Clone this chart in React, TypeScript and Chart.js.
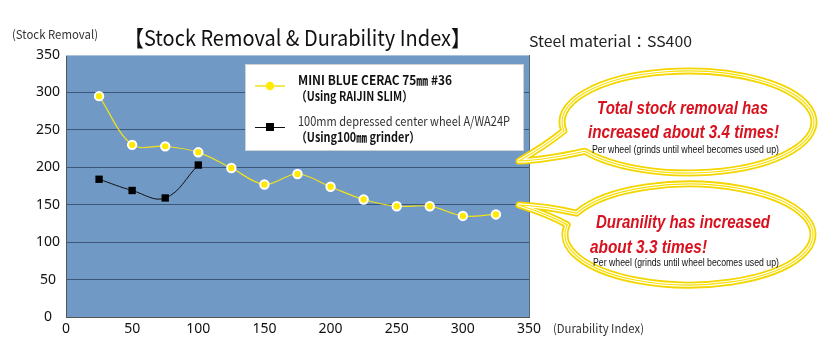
import React, { useEffect, useRef } from "react";
import { Chart, registerables } from "chart.js";

Chart.register(...registerables);

// ---- data ----
const yellowLabel = ["MINI BLUE CERAC 75㎜ #36", "（Using RAIJIN SLIM）"];
const blackLabel = ["100mm depressed center wheel A/WA24P", "（Using100㎜ grinder）"];
const yellowDurability = [25, 50, 75, 100, 125, 150, 175, 200, 225, 250, 275, 300, 325];
const yellowRemoval = [295, 230, 228, 220, 199, 177, 191, 174, 157, 148, 148, 135, 137];
const blackDurability = [25, 50, 75, 100];
const blackRemoval = [184, 169, 159, 203];
const xTicks = [0, 50, 100, 150, 200, 250, 300, 350];
const yTicks = [0, 50, 100, 150, 200, 250, 300, 350];

const titleText = "【Stock Removal & Durability Index】";
const materialText = "Steel material：SS400";
const yAxisTitle = "(Stock Removal)";
const xAxisTitle = "(Durability Index)";
const callout1 = ["Total stock removal has", "increased about 3.4 times!"];
const callout2 = ["Duranility has increased", "about 3.3 times!"];
const perWheel = "Per wheel (grinds until wheel becomes used up)";

const YELLOW = "#ffea00";
const YELLOW_LINE = "#f2e21a";
const PLOT_BG = "#7199c5";
const GRID = "#3d5678";
const RED = "#d8121e";
const CJK = "'Noto Sans CJK JP', 'Noto Sans', sans-serif";
const NARROW = "'Liberation Sans Narrow', 'Liberation Sans', sans-serif";

function fitText(ctx: CanvasRenderingContext2D, text: string, x: number, y: number, width: number, font: string, color: string) {
  ctx.save();
  ctx.font = font;
  ctx.fillStyle = color;
  ctx.textAlign = "left";
  ctx.textBaseline = "alphabetic";
  const w = ctx.measureText(text).width;
  ctx.translate(x, y);
  ctx.scale(width / w, 1);
  ctx.fillText(text, 0, 0);
  ctx.restore();
}

function bubble(ctx: CanvasRenderingContext2D, cx: number, cy: number, rx: number, ry: number, a1: number, a2: number, tip: [number, number], c1: [number, number], c2: [number, number]) {
  const r = Math.PI / 180;
  const p2: [number, number] = [cx + rx * Math.cos(a2 * r), cy + ry * Math.sin(a2 * r)];
  const p1: [number, number] = [cx + rx * Math.cos(a1 * r), cy + ry * Math.sin(a1 * r)];
  const path = () => {
    ctx.beginPath();
    ctx.moveTo(p1[0], p1[1]);
    ctx.ellipse(cx, cy, rx, ry, 0, a1 * r, a2 * r, false);
    ctx.quadraticCurveTo(c1[0], c1[1], tip[0], tip[1]);
    ctx.quadraticCurveTo(c2[0], c2[1], p1[0], p1[1]);
    ctx.closePath();
  };
  ctx.save();
  path();
  ctx.fillStyle = "#ffffff";
  ctx.fill();
  ctx.lineJoin = "round";
  ctx.strokeStyle = "#f3d500";
  ctx.lineWidth = 7;
  ctx.stroke();
  ctx.strokeStyle = "#ffffff";
  ctx.lineWidth = 3.4;
  ctx.stroke();
  ctx.strokeStyle = "#f8e000";
  ctx.lineWidth = 1.2;
  ctx.stroke();
  ctx.restore();
}

const decorPlugin = {
  id: "decor",
  beforeDraw(chart: any) {
    const { ctx, chartArea: a } = chart;
    ctx.save();
    ctx.fillStyle = PLOT_BG;
    ctx.fillRect(a.left, a.top, a.right - a.left, a.bottom - a.top);
    ctx.restore();
  },
  afterDatasetsDraw(chart: any) {
    const { ctx, chartArea: a } = chart;
    // right / top frame
    ctx.save();
    ctx.strokeStyle = "#5a6a7a";
    ctx.lineWidth = 1;
    ctx.beginPath();
    ctx.moveTo(a.right + 0.5, a.top);
    ctx.lineTo(a.right + 0.5, a.bottom);
    ctx.stroke();
    ctx.strokeStyle = "#a9c0da";
    ctx.beginPath();
    ctx.moveTo(a.left, a.top + 0.5);
    ctx.lineTo(a.right, a.top + 0.5);
    ctx.stroke();
    ctx.restore();

    // legend
    const ds = chart.data.datasets;
    ctx.save();
    ctx.fillStyle = "#ffffff";
    ctx.fillRect(245, 64, 279, 87);
    ctx.strokeStyle = "#d0d0d0";
    ctx.lineWidth = 1;
    ctx.strokeRect(245.5, 64.5, 278, 86);
    // yellow marker
    ctx.strokeStyle = ds[0].borderColor;
    ctx.lineWidth = 1.5;
    ctx.beginPath();
    ctx.moveTo(255, 86);
    ctx.lineTo(285, 86);
    ctx.stroke();
    ctx.fillStyle = ds[0].pointBackgroundColor;
    ctx.beginPath();
    ctx.arc(270, 86, 4.2, 0, Math.PI * 2);
    ctx.fill();
    // black marker
    ctx.strokeStyle = ds[1].borderColor;
    ctx.lineWidth = 1;
    ctx.beginPath();
    ctx.moveTo(255, 127.5);
    ctx.lineTo(285, 127.5);
    ctx.stroke();
    ctx.fillStyle = ds[1].pointBackgroundColor;
    ctx.fillRect(266, 123, 8, 8);
    ctx.restore();

    fitText(ctx, yellowLabel[0], 298, 85, 154, `bold 13px ${CJK}`, "#111");
    fitText(ctx, yellowLabel[1], 296, 101, 117, `bold 13px ${CJK}`, "#111");
    fitText(ctx, blackLabel[0], 298, 126, 212, `13px ${CJK}`, "#333");
    fitText(ctx, blackLabel[1], 296, 142, 124, `bold 13px ${CJK}`, "#111");
  },
  afterDraw(chart: any) {
    const { ctx } = chart;
    // titles
    fitText(ctx, titleText, 124, 46, 347, `22px ${CJK}`, "#111");
    fitText(ctx, materialText, 529, 47, 163, `15px ${CJK}`, "#222");
    fitText(ctx, yAxisTitle, 12, 39, 86, `12px ${CJK}`, "#333");
    fitText(ctx, xAxisTitle, 553, 333, 91, `12px ${CJK}`, "#333");

    // callouts
    bubble(ctx, 688, 122, 126, 51, 170, 145 + 360, [519, 161], [545, 160], [545, 146]);
    bubble(ctx, 689, 234.5, 124, 50.5, 205, 191 + 360, [519, 205], [550, 215], [545, 206]);

    fitText(ctx, callout1[0], 597, 114, 171, `bold italic 19px ${NARROW}`, RED);
    fitText(ctx, callout1[1], 588, 138, 191, `bold italic 19px ${NARROW}`, RED);
    fitText(ctx, perWheel, 592, 153, 187, `11px ${NARROW}`, "#111");
    fitText(ctx, callout2[0], 596, 228, 174, `bold italic 19px ${NARROW}`, RED);
    fitText(ctx, callout2[1], 590, 253, 117, `bold italic 19px ${NARROW}`, RED);
    fitText(ctx, perWheel, 593, 266, 186, `11px ${NARROW}`, "#111");
  },
};

export default function App() {
  const ref = useRef<HTMLCanvasElement | null>(null);
  useEffect(() => {
    if (!ref.current) return;
    const chart = new Chart(ref.current, {
      type: "line",
      data: {
        datasets: [
          {
            label: yellowLabel.join(" "),
            data: yellowDurability.map((x, i) => ({ x, y: yellowRemoval[i] })),
            borderColor: YELLOW_LINE,
            borderWidth: 1.2,
            backgroundColor: YELLOW,
            pointBackgroundColor: YELLOW,
            pointBorderColor: "#ffffff",
            pointBorderWidth: 2,
            pointRadius: 4.2,
            pointStyle: "circle",
            tension: 0.35,
            fill: false,
          },
          {
            label: blackLabel.join(" "),
            data: blackDurability.map((x, i) => ({ x, y: blackRemoval[i] })),
            borderColor: "#111111",
            borderWidth: 1,
            backgroundColor: "#000000",
            pointBackgroundColor: "#000000",
            pointBorderColor: "#000000",
            pointBorderWidth: 0,
            pointRadius: 5.2,
            pointStyle: "rect",
            tension: 0.4,
            fill: false,
          },
        ],
      },
      options: {
        responsive: false,
        animation: false,
        events: [],
        layout: { padding: { top: 55, right: 292, left: 0, bottom: 0 } },
        plugins: { legend: { display: false }, tooltip: { enabled: false }, title: { display: false } },
        scales: {
          x: {
            type: "linear",
            min: xTicks[0],
            max: xTicks[xTicks.length - 1],
            afterBuildTicks: (s: any) => { s.ticks = xTicks.map((v) => ({ value: v })); },
            afterFit: (s: any) => { s.height = 36; },
            grid: { display: false, drawTicks: false },
            border: { display: true, color: "#555555", width: 1 },
            ticks: { color: "#111", padding: 4, font: { family: "'Noto Sans', sans-serif", size: 14 }, maxRotation: 0 },
          },
          y: {
            type: "linear",
            min: yTicks[0],
            max: yTicks[yTicks.length - 1],
            afterBuildTicks: (s: any) => { s.ticks = yTicks.map((v) => ({ value: v })); },
            afterFit: (s: any) => { s.width = 66; },
            grid: {
              drawTicks: false,
              color: (c: any) => (c.tick && (c.tick.value === 350 || c.tick.value === 0) ? "rgba(0,0,0,0)" : GRID),
              lineWidth: 1,
            },
            border: { display: true, color: "#555555", width: 1 },
            ticks: { color: "#111", padding: 6, crossAlign: "center", font: { family: "'Noto Sans', sans-serif", size: 14 } },
          },
        },
      },
      plugins: [decorPlugin],
    } as any);
    return () => chart.destroy();
  }, []);
  return (
    <div style={{ position: "absolute", left: 0, top: 0, width: 821, height: 353, background: "#fff" }}>
      <canvas ref={ref} width={821} height={353} style={{ display: "block", width: 821, height: 353 }} />
    </div>
  );
}
